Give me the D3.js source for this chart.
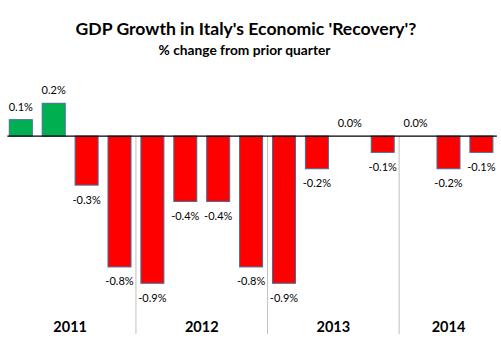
<!DOCTYPE html>
<html>
<head>
<meta charset="utf-8">
<title>GDP Growth in Italy</title>
<script src="https://cdn.jsdelivr.net/npm/d3@7"></script>
<style>
  html, body { margin: 0; padding: 0; background: #fff; }
  svg { display: block; font-family: Lato, "Noto Sans", sans-serif; }
  .lbl { font-size: 11px; fill: #000; }
  .year { font-size: 14.5px; font-weight: bold; fill: #000; }
</style>
</head>
<body>
<svg width="501" height="346"></svg>
<script>
// quarters, grouped by year
var quarters = ["2011Q1","2011Q2","2011Q3","2011Q4",
                "2012Q1","2012Q2","2012Q3","2012Q4",
                "2013Q1","2013Q2","2013Q3","2013Q4",
                "2014Q1","2014Q2","2014Q3"];
var growth = [0.1, 0.2, -0.3, -0.8,
              -0.9, -0.4, -0.4, -0.8,
              -0.9, -0.2, 0.0, -0.1,
              0.0, -0.2, -0.1];
var years = ["2011", "2012", "2013", "2014"];

var svg = d3.select("svg");

var x = d3.scaleBand()
    .domain(quarters)
    .range([4.35, 497.85])
    .paddingInner(0.3)
    .paddingOuter(0.15);

var y = d3.scaleLinear()
    .domain([-0.9, 0.2])
    .range([283.3, 103.3]);

var gap = (x.step() - x.bandwidth()) / 2;
var axisBottom = 334;

// title + subtitle, sized to the reference widths
function fitText(sel, target) {
  var w = sel.node().getComputedTextLength();
  var fs = parseFloat(sel.style("font-size"));
  sel.style("font-size", (fs * target / w) + "px");
}

var title = svg.append("text")
    .attr("x", 246).attr("y", 35)
    .attr("text-anchor", "middle")
    .style("font-size", "18px")
    .style("font-weight", "bold")
    .text("GDP Growth in Italy's Economic 'Recovery'?");
fitText(title, 341);

var sub = svg.append("text")
    .attr("x", 244.5).attr("y", 55)
    .attr("text-anchor", "middle")
    .style("font-size", "14px")
    .style("font-weight", "bold")
    .text("% change from prior quarter");
fitText(sub, 172);

// year separators
var groups = years.map(function(yr) {
  var qs = quarters.filter(function(q) { return q.slice(0, 4) === yr; });
  return {year: yr, first: qs[0], last: qs[qs.length - 1]};
});

svg.selectAll(".sep")
    .data(groups.slice(1))
    .enter().append("line")
    .attr("class", "sep")
    .attr("x1", function(d) { return x(d.first) - gap; })
    .attr("x2", function(d) { return x(d.first) - gap; })
    .attr("y1", y(0))
    .attr("y2", axisBottom)
    .attr("stroke", "#bfbfbf")
    .attr("stroke-width", 1);

// bars
var data = quarters.map(function(q, i) { return {q: q, v: growth[i]}; });

svg.selectAll(".bar")
    .data(data.filter(function(d) { return d.v !== 0; }))
    .enter().append("rect")
    .attr("class", "bar")
    .attr("x", function(d) { return x(d.q); })
    .attr("y", function(d) { return y(Math.max(0, d.v)); })
    .attr("width", x.bandwidth())
    .attr("height", function(d) { return Math.abs(y(d.v) - y(0)); })
    .attr("fill", function(d) { return d.v > 0 ? "#00b050" : "#ff0000"; })
    .attr("stroke", "#41719c")
    .attr("stroke-width", 1);

// zero line
svg.append("line")
    .attr("x1", x.range()[0] + 3)
    .attr("x2", x.range()[1] - 1)
    .attr("y1", y(0))
    .attr("y2", y(0))
    .attr("stroke", "#000")
    .attr("stroke-width", 1.2);

// data labels
svg.selectAll(".lbl")
    .data(data)
    .enter().append("text")
    .attr("class", "lbl")
    .attr("text-anchor", "middle")
    .attr("x", function(d) { return x(d.q) + x.bandwidth() / 2; })
    .attr("y", function(d) { return d.v >= 0 ? y(d.v) - 9 : y(d.v) + 18.5; })
    .text(function(d) { return d.v.toFixed(1) + "%"; });

// year labels
svg.selectAll(".year")
    .data(groups)
    .enter().append("text")
    .attr("class", "year")
    .attr("text-anchor", "middle")
    .attr("x", function(d) { return (x(d.first) + x(d.last) + x.bandwidth()) / 2; })
    .attr("y", 331.5)
    .text(function(d) { return d.year; });
</script>
</body>
</html>
